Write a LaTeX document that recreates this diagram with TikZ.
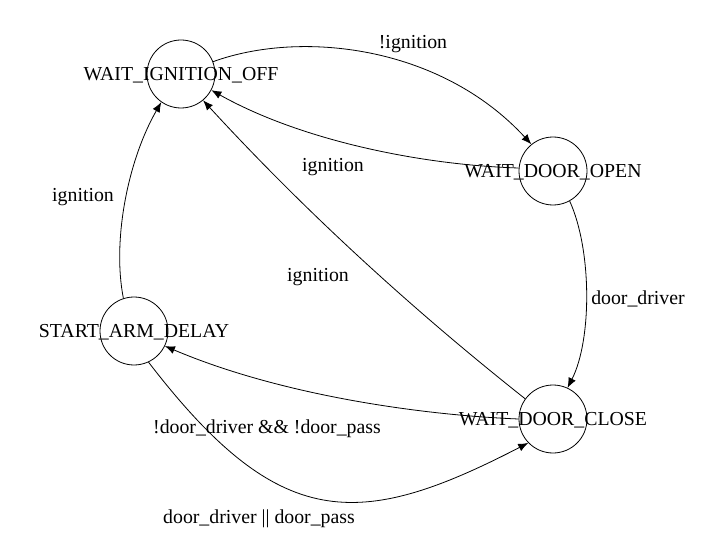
\documentclass[tikz,border=0pt]{standalone}
\usepackage{fontspec}
\setmainfont{Liberation Serif}
\usetikzlibrary{arrows.meta}

\begin{document}
\begin{tikzpicture}
 [x=1pt,y=-1pt,>={Latex[length=10pt,width=8pt]},line width=0.8pt,
  every node/.style={font=\fontsize{19.8}{24}\selectfont,inner sep=0pt},
  every label/.style={yshift=-1.5pt},
  state/.style={circle,draw,minimum size=68pt}]
  \useasboundingbox (0,0) rectangle (721,559);
  \node (nwio)[state,label=center:{WAIT\_IGNITION\_OFF}] at (181,74) {};
  \node (nwdo)[state,label=center:{WAIT\_DOOR\_OPEN}] at (553,171) {};
  \node (nwdc)[state,label=center:{WAIT\_DOOR\_CLOSE}] at (553,419) {};
  \node (nsad)[state,label=center:{START\_ARM\_DELAY}] at (134,331) {};

  \draw[->] (nwio.21) .. controls (300,30) and (440,45) .. (nwdo.129);
  \draw[->] (nwdo.175) .. controls (420,165) and (300,140) .. (nwio.-28);
  \draw[->] (nwdo.-61) .. controls (592,250) and (592,340) .. (nwdc.65);
  \draw[->] (nwdc.144) .. controls (408,306) and (302,208) .. (nwio.-50);
  \draw[->] (nwdc.180) .. controls (420,415) and (280,395) .. (nsad.-26);
  \draw[->] (nsad.-65) .. controls (279,532) and (358,531) .. (nwdc.224);
  \draw[->] (nsad.108) .. controls (112,240) and (128,160) .. (nwio.-125);

  \node (lnign) at (413,44) {!ignition};
  \node (lign1) at (333,167) {ignition};
  \node (ldrv) at (638,299) {door\_driver};
  \node (lign2) at (318,277) {ignition};
  \node (lign3) at (83,197) {ignition};
  \node (lnone) at (267,429) {!door\_driver \&\& !door\_pass};
  \node (lany) at (259,519) {door\_driver || door\_pass};
\end{tikzpicture}
\end{document}
